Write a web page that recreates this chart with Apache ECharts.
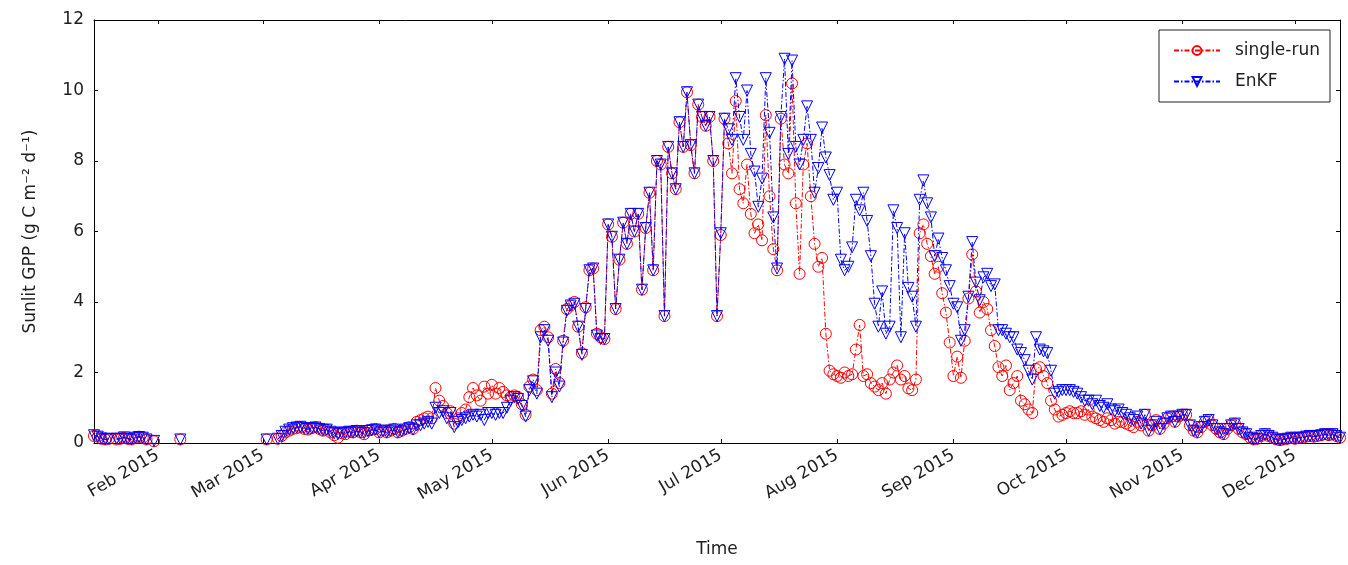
<!DOCTYPE html>
<html>
<head>
<meta charset="utf-8">
<title>Sunlit GPP</title>
<script src="https://cdn.jsdelivr.net/npm/echarts@6/dist/echarts.min.js"></script>
<style>
  html, body { margin: 0; padding: 0; background: #fff; }
  #chart { width: 1348px; height: 565px; }
</style>
</head>
<body>
<div id="chart"></div>
<script>
// daily values, first day = 2015-01-15, null = no data
const startDay = [2015, 0, 15];
const tickLabels = ['Feb 2015', 'Mar 2015', 'Apr 2015', 'May 2015', 'Jun 2015', 'Jul 2015',
  'Aug 2015', 'Sep 2015', 'Oct 2015', 'Nov 2015', 'Dec 2015'];

// single-run
const runJan = [0.2, 0.18, 0.12, 0.1, 0.12, null, 0.1, 0.12, 0.15, 0.12, 0.1, 0.15, 0.18, 0.15, 0.1, null, 0.05];
const runFeb = [null, null, null, null, null, null, 0.1, null, null, null, null, null, null, null,
  null, null, null, null, null, null, null, null, null, null, null, null, null, null];
const runMar = [null, 0.1, null, null, 0.12, 0.2, 0.3, 0.35, 0.4, 0.42, 0.45, 0.4, 0.38, 0.42, 0.45, 0.4,
  0.35, 0.38, 0.3, 0.22, 0.15, 0.28, 0.25, 0.32, 0.3, 0.35, 0.3, 0.25, 0.35, 0.38, 0.4];
const runApr = [0.3, 0.35, 0.3, 0.35, 0.4, 0.3, 0.35, 0.4, 0.45, 0.4, 0.6, 0.65, 0.7, 0.75, 0.7, 1.56,
  1.2, 1.05, 0.85, 0.9, 0.55, 0.7, 0.85, 0.95, 1.3, 1.56, 1.35, 1.2, 1.6, 1.4];
const runMay = [1.65, 1.4, 1.56, 1.45, 1.35, 1.3, 1.35, 1.3, 1.1, 0.8, 1.6, 1.8, 1.5, 3.2, 3.3, 3.0,
  1.4, 2.1, 1.7, 2.9, 3.8, 3.9, 4.0, 3.3, 2.55, 3.85, 4.9, 4.95, 3.1, 3.0, 2.95];
const runJun = [6.2, 5.85, 3.8, 5.2, 6.25, 5.65, 6.5, 6.0, 6.5, 4.35, 6.1, 7.1, 4.9, 8.0, 7.9, 3.6,
  8.4, 7.65, 7.2, 9.1, 8.4, 9.95, 8.45, 7.65, 9.6, 9.25, 9.0, 9.25, 8.0, 3.6];
const runJul = [5.9, 9.2, 8.5, 7.65, 9.7, 7.2, 6.8, 7.9, 6.5, 5.95, 6.2, 5.75, 9.3, 7.0, 5.5, 4.9,
  9.2, 7.9, 7.65, 10.2, 6.8, 4.8, 7.9, 8.5, 7.0, 5.65, 5.0, 5.25, 3.1, 2.05, 1.95];
const runAug = [1.9, 1.85, 2.0, 1.9, 1.95, 2.65, 3.35, 1.9, 1.95, 1.7, 1.6, 1.5, 1.7, 1.4, 1.8, 2.0,
  2.2, 1.8, 1.9, 1.55, 1.5, 1.8, 5.95, 6.2, 5.65, 5.3, 4.8, 5.0, 4.25, 3.7, 2.85];
const runSep = [1.9, 2.45, 1.85, 2.9, 4.1, 5.35, 4.3, 3.7, 4.0, 3.8, 3.2, 2.75, 2.15, 1.9, 2.2, 1.5,
  1.7, 1.9, 1.2, 1.1, 0.95, 0.85, 2.1, 2.15, 1.9, 1.7, 1.2, 0.95, 0.75, 0.8];
const runOct = [0.85, 0.9, 0.85, 0.85, 0.9, 0.8, 0.95, 0.75, 0.7, 0.65, 0.6, 0.7, 0.65, 0.55, 0.6, 0.6,
  0.55, 0.5, 0.45, 0.6, 0.5, 0.8, 0.35, 0.5, 0.65, 0.4, 0.55, 0.7, 0.75, 0.6, 0.75];
const runNov = [0.8, 0.8, 0.5, 0.35, 0.3, 0.45, 0.6, 0.65, 0.5, 0.4, 0.3, 0.25, 0.4, 0.5, 0.55, 0.4,
  0.3, 0.25, 0.15, 0.1, 0.12, 0.2, 0.25, 0.2, 0.15, 0.1, 0.08, 0.1, 0.12, 0.15];
const runDec = [0.12, 0.15, 0.15, 0.18, 0.2, 0.18, 0.2, 0.22, 0.25, 0.22, 0.25, 0.2, 0.15];

// EnKF
const enkfJan = [0.22, 0.18, 0.13, 0.1, 0.12, null, 0.12, 0.12, 0.16, 0.12, 0.1, 0.15, 0.17, 0.15, 0.1, null, 0.06];
const enkfFeb = runFeb.slice();
const enkfMar = [null, 0.1, null, null, 0.12, 0.2, 0.32, 0.38, 0.42, 0.44, 0.46, 0.42, 0.4, 0.42, 0.44, 0.4,
  0.36, 0.38, 0.32, 0.28, 0.25, 0.3, 0.28, 0.32, 0.3, 0.34, 0.3, 0.28, 0.34, 0.36, 0.38];
const enkfApr = [0.3, 0.35, 0.3, 0.35, 0.38, 0.3, 0.33, 0.38, 0.42, 0.38, 0.5, 0.5, 0.55, 0.6, 0.55, 1.0,
  0.85, 0.9, 0.7, 0.85, 0.45, 0.6, 0.65, 0.7, 0.75, 0.8, 0.75, 0.8, 0.65, 0.85];
const enkfMay = [0.85, 0.8, 0.85, 0.85, 1.0, 1.2, 1.3, 1.25, 1.05, 0.75, 1.5, 1.75, 1.4, 3.0, 3.2, 2.9,
  1.3, 2.0, 1.6, 2.85, 3.75, 3.9, 3.95, 3.3, 2.5, 3.8, 4.9, 4.95, 3.05, 2.95, 2.95];
const enkfJun = [6.2, 5.85, 3.8, 5.2, 6.25, 5.65, 6.5, 6.0, 6.5, 4.35, 6.1, 7.1, 4.9, 8.0, 7.9, 3.6,
  8.4, 7.65, 7.2, 9.1, 8.4, 9.95, 8.45, 7.65, 9.6, 9.25, 9.0, 9.25, 8.0, 3.6];
const enkfJul = [5.95, 9.2, 8.9, 8.6, 10.35, 9.25, 8.6, 10.0, 8.2, 7.7, 6.7, 7.5, 10.35, 8.8, 6.4, 4.95,
  9.25, 10.9, 8.2, 10.85, 8.4, 7.9, 8.6, 9.55, 8.6, 7.1, 7.8, 8.95, 8.1, 7.6, 6.9];
const enkfAug = [7.1, 5.2, 4.9, 5.0, 5.55, 6.9, 6.6, 7.1, 6.3, 5.3, 3.95, 3.3, 4.3, 3.1, 3.3, 6.6,
  6.1, 3.0, 5.95, 4.4, 4.15, 3.3, 6.9, 7.45, 6.8, 6.4, 5.3, 5.8, 5.25, 4.9, 4.45];
const enkfSep = [3.95, 3.85, 2.9, 3.2, 4.15, 5.7, 4.55, 4.05, 4.7, 4.8, 4.45, 4.5, 3.2, 3.2, 3.1, 3.0,
  3.0, 2.65, 2.55, 2.35, 2.05, 1.8, 3.0, 2.65, 2.6, 2.55, 2.05, 1.4, 1.45, 1.5];
const enkfOct = [1.5, 1.5, 1.45, 1.4, 1.3, 1.2, 1.2, 1.1, 1.2, 1.05, 1.0, 1.1, 0.95, 0.9, 0.95, 0.85,
  0.8, 0.7, 0.65, 0.75, 0.55, 0.8, 0.35, 0.5, 0.6, 0.4, 0.55, 0.7, 0.75, 0.6, 0.75];
const enkfNov = runNov.slice();
const enkfDec = runDec.slice();

const runValues = [].concat(runJan, runFeb, runMar, runApr, runMay, runJun, runJul, runAug, runSep, runOct, runNov, runDec);
const enkfValues = [].concat(enkfJan, enkfFeb, enkfMar, enkfApr, enkfMay, enkfJun, enkfJul, enkfAug, enkfSep, enkfOct, enkfNov, enkfDec);

function dayOf(i) {
  return new Date(startDay[0], startDay[1], startDay[2] + i).getTime();
}
function toPairs(values) {
  return values.map((v, i) => [dayOf(i), v]);
}

const xMin = dayOf(0);
const xMax = new Date(2015, 11, 13).getTime();
const monthTicks = tickLabels.map((t, i) => new Date(2015, i + 1, 1).getTime());

const FONT = 'DejaVu Sans';
const TXT = '#1e1e1e';
const RED = '#ff0000';
const BLUE = '#0000ff';
const dashDot = [5, 2, 1.5, 2];

const chart = echarts.init(document.getElementById('chart'), null, { renderer: 'canvas' });

// x axis is a plain value axis holding timestamps, ticks at month starts
function xAxisBase(extra) {
  return Object.assign({
    type: 'value',
    min: xMin,
    max: xMax,
    axisLine: { show: true, onZero: false, lineStyle: { color: '#000', width: 1 } },
    axisTick: { show: true, inside: true, length: 4, customValues: monthTicks, lineStyle: { color: '#000' } },
    splitLine: { show: false }
  }, extra);
}

const option = {
  backgroundColor: '#fff',
  animation: false,
  textStyle: { fontFamily: FONT },
  grid: { left: 94, right: 8, top: 20, bottom: 122, containLabel: false },
  legend: {
    orient: 'vertical',
    right: 18,
    top: 30,
    padding: [12, 10, 12, 14],
    itemGap: 14,
    itemWidth: 46,
    itemHeight: 11,
    borderColor: '#222',
    borderWidth: 1,
    backgroundColor: '#fff',
    textStyle: { fontFamily: FONT, fontSize: 17, color: TXT, padding: [0, 0, 0, 10] },
    data: ['single-run', 'EnKF']
  },
  xAxis: [
    xAxisBase({
      name: 'Time',
      nameLocation: 'middle',
      nameGap: 98,
      nameTextStyle: { fontFamily: FONT, fontSize: 17, color: TXT },
      axisLabel: {
        show: true,
        rotate: 30,
        margin: 11,
        fontFamily: FONT,
        fontSize: 17,
        color: TXT,
        customValues: monthTicks,
        formatter: (v) => tickLabels[new Date(v).getMonth() - 1]
      }
    }),
    xAxisBase({ position: 'top', axisLabel: { show: false } })
  ],
  yAxis: [
    {
      type: 'value',
      min: 0,
      max: 12,
      interval: 2,
      name: 'Sunlit GPP (g C m\u207B\u00B2 d\u207B\u00B9)',
      nameLocation: 'middle',
      nameRotate: 90,
      nameGap: 55,
      nameTextStyle: { fontFamily: FONT, fontSize: 17, color: TXT },
      axisLine: { show: true, onZero: false, lineStyle: { color: '#000', width: 1 } },
      axisTick: { show: true, inside: true, length: 4, lineStyle: { color: '#000' } },
      axisLabel: { fontFamily: FONT, fontSize: 17, color: TXT, margin: 10 },
      splitLine: { show: false }
    },
    {
      type: 'value',
      position: 'right',
      min: 0,
      max: 12,
      interval: 2,
      axisLine: { show: true, onZero: false, lineStyle: { color: '#000', width: 1 } },
      axisTick: { show: true, inside: true, length: 4, lineStyle: { color: '#000' } },
      axisLabel: { show: false },
      splitLine: { show: false }
    }
  ],
  series: [
    {
      name: 'single-run',
      type: 'line',
      data: toPairs(runValues),
      connectNulls: false,
      symbol: 'circle',
      symbolSize: 11,
      showAllSymbol: true,
      itemStyle: { color: 'rgba(255,255,255,0)', borderColor: RED, borderWidth: 1 },
      lineStyle: { color: RED, width: 1, type: dashDot },
      emphasis: { disabled: true },
      z: 2
    },
    {
      name: 'EnKF',
      type: 'line',
      data: toPairs(enkfValues),
      connectNulls: false,
      symbol: 'triangle',
      symbolRotate: 180,
      symbolSize: 11,
      showAllSymbol: true,
      itemStyle: { color: 'rgba(255,255,255,0)', borderColor: BLUE, borderWidth: 1 },
      lineStyle: { color: BLUE, width: 1, type: dashDot },
      emphasis: { disabled: true },
      z: 3
    }
  ]
};

chart.setOption(option);
</script>
</body>
</html>
